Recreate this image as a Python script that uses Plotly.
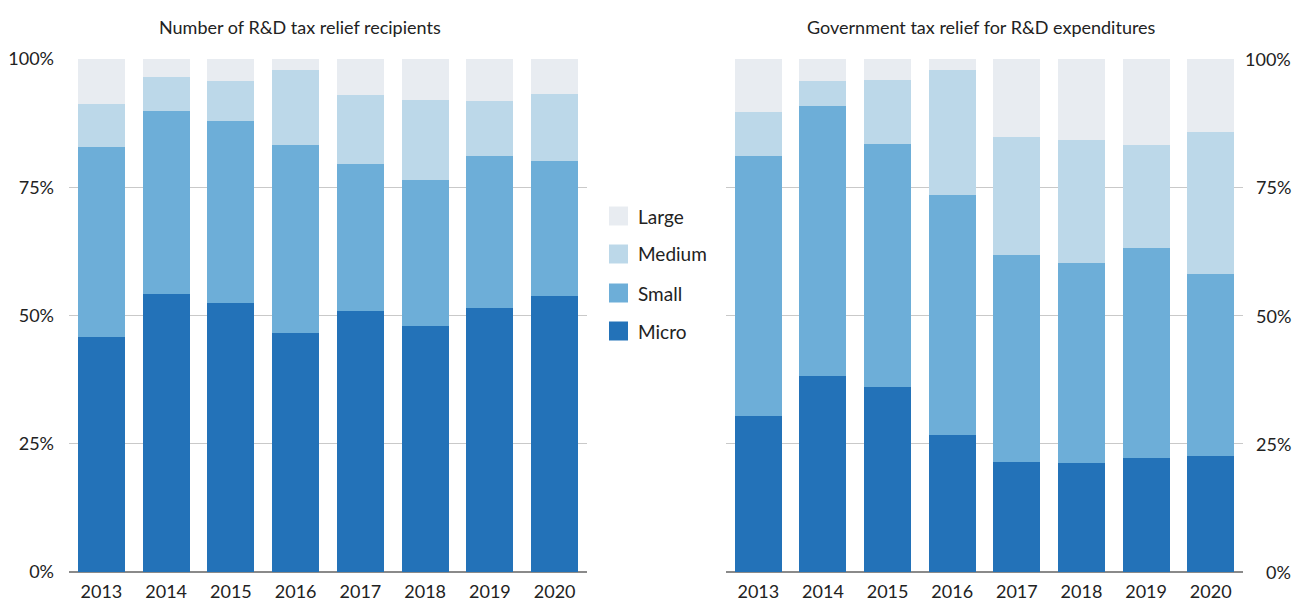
import plotly.graph_objects as go
from plotly.subplots import make_subplots

years = ["2013", "2014", "2015", "2016", "2017", "2018", "2019", "2020"]
size_classes = ["Micro", "Small", "Medium", "Large"]

# Share of R&D tax relief recipients by firm size (%)
recipients_micro = [45.8, 54.2, 52.4, 46.6, 50.9, 48.0, 51.5, 53.8]
recipients_small = [37.0, 35.7, 35.5, 36.6, 28.6, 28.4, 29.6, 26.3]
recipients_medium = [8.4, 6.6, 7.8, 14.7, 13.5, 15.6, 10.7, 13.1]
recipients_large = [8.8, 3.5, 4.3, 2.1, 7.0, 8.0, 8.2, 6.8]

# Share of government tax relief for R&D expenditures by firm size (%)
relief_micro = [30.4, 38.2, 36.1, 26.7, 21.4, 21.2, 22.2, 22.6]
relief_small = [50.7, 52.6, 47.3, 46.8, 40.4, 39.0, 41.0, 35.5]
relief_medium = [8.6, 4.9, 12.5, 24.4, 23.0, 24.0, 20.0, 27.7]
relief_large = [10.3, 4.3, 4.1, 2.1, 15.2, 15.8, 16.8, 14.2]

y_ticks = [0, 25, 50, 75, 100]
y_tick_labels = ["0%", "25%", "50%", "75%", "100%"]
colors = {"Micro": "#2372b8", "Small": "#6daed8", "Medium": "#bcd8e9", "Large": "#e8ecf1"}

FONT = "Lato"
TEXT = "#222"
W, H = 1308, 603
ML, MR, MT, MB = 69, 65, 59, 31
pw, ph = W - ML - MR, H - MT - MB

fig = make_subplots(rows=1, cols=2)

left = dict(zip(size_classes, [recipients_micro, recipients_small, recipients_medium, recipients_large]))
right = dict(zip(size_classes, [relief_micro, relief_small, relief_medium, relief_large]))

for col, series in ((1, left), (2, right)):
    for name in size_classes:
        fig.add_trace(
            go.Bar(x=years, y=series[name], name=name, marker_color=colors[name],
                   marker_line_width=0, showlegend=False,
                   hovertemplate="%{x}: %{y:.1f}%<extra>" + name + "</extra>"),
            row=1, col=col,
        )

axis_common = dict(range=[0, 100], tickmode="array", tickvals=y_ticks, ticktext=y_tick_labels,
                   showgrid=True, gridcolor="#c9c9c9", gridwidth=1.3,
                   zeroline=True, zerolinecolor="#8a8a8a", zerolinewidth=1.5,
                   showline=False, ticks="", fixedrange=True, automargin=False,
                   tickfont=dict(family=FONT, size=18, color=TEXT))

fig.update_yaxes(**axis_common, side="left", ticklabelstandoff=14, row=1, col=1)
# right panel labels are right-aligned, drawn as annotations below
fig.update_yaxes(**axis_common, side="right", showticklabels=False, row=1, col=2)
fig.update_xaxes(showgrid=False, showline=False, ticks="", fixedrange=True, automargin=False,
                 tickfont=dict(family=FONT, size=18, color=TEXT), ticklabelstandoff=7)
fig.update_xaxes(domain=[0, 518 / pw], row=1, col=1)
fig.update_xaxes(domain=[657 / pw, 1], row=1, col=2)

for val, lab in zip(y_ticks, y_tick_labels):
    fig.add_annotation(xref="paper", yref="y2", x=(1293 - ML) / pw, y=val, text=lab,
                       showarrow=False, xanchor="right", yanchor="middle",
                       font=dict(family=FONT, size=18, color=TEXT))

# Legend: swatches and labels between the panels
legend_rows = [("Large", 216), ("Medium", 254), ("Small", 293), ("Micro", 331)]
for name, ypix in legend_rows:
    fig.add_shape(type="rect", xref="paper", yref="paper",
                  x0=(609 - ML) / pw, x1=(628 - ML) / pw,
                  y0=1 - (ypix + 9.5 - MT) / ph, y1=1 - (ypix - 9.5 - MT) / ph,
                  fillcolor=colors[name], line_width=0)
    fig.add_annotation(xref="paper", yref="paper", x=(636 - ML) / pw, y=1 - (ypix - MT) / ph,
                       text=name, showarrow=False, xanchor="left", yanchor="middle",
                       font=dict(family=FONT, size=19, color=TEXT))

titles = [("Number of R&D tax relief recipients", 300), ("Government tax relief for R&D expenditures", 981)]
for text, xc in titles:
    fig.add_annotation(xref="paper", yref="paper", x=(xc - ML) / pw, y=1 + (MT - 27) / ph,
                       text=text, showarrow=False, xanchor="center", yanchor="middle",
                       font=dict(family=FONT, size=18, color=TEXT))

fig.update_layout(
    width=W, height=H, barmode="stack", bargap=0.274,
    margin=dict(l=ML, r=MR, t=MT, b=MB),
    plot_bgcolor="white", paper_bgcolor="white",
    showlegend=False,
    font=dict(family=FONT, color=TEXT),
)

fig.write_html("out.html")
